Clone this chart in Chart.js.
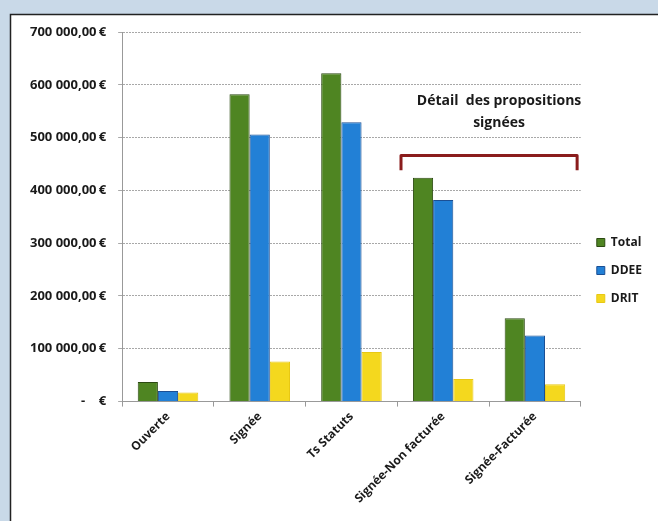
<!DOCTYPE html>
<html>
<head>
<meta charset="utf-8">
<script src="https://cdn.jsdelivr.net/npm/chart.js@4/dist/chart.umd.min.js"></script>
<style>
	html, body { margin: 0; padding: 0; background: #c9d9e8; }
	#wrap { width: 658px; height: 521px; position: relative; }
</style>
</head>
<body>
<div id="wrap"><canvas id="bar-chart" width="658" height="521"></canvas></div>
<script>
; (function() {

	// données
	const categories = ['Ouverte', 'Signée', 'Ts Statuts', 'Signée-Non facturée', 'Signée-Facturée']
	const total = [37000, 582000, 622000, 424000, 158000]
	const ddee = [20000, 506000, 529000, 382000, 125000]
	const drit = [17000, 76000, 94000, 43000, 33000]
	const yTicks = [0, 100000, 200000, 300000, 400000, 500000, 600000, 700000]

	function euro(v) {
		if (v === 0) return '-    €'
		return String(v).replace(/\B(?=(\d{3})+(?!\d))/g, ' ') + ',00\u2009€'
	}

	const framePlugin = {
		id: 'frame',
		beforeDraw(chart) {
			const ctx = chart.ctx
			ctx.save()
			ctx.fillStyle = '#c9d9e8'
			ctx.fillRect(0, 0, chart.width, chart.height)
			ctx.fillStyle = '#ffffff'
			ctx.fillRect(10, 14, chart.width, chart.height)
			ctx.strokeStyle = '#222'
			ctx.lineWidth = 1.5
			ctx.strokeRect(10.5, 14.5, chart.width + 10, chart.height + 10)
			ctx.restore()
		}
	}

	// accolade "Détail des propositions signées"
	const bracketPlugin = {
		id: 'bracket',
		afterDraw(chart) {
			const x = chart.scales.x, y = chart.scales.y
			const w = x.getPixelForValue(1) - x.getPixelForValue(0)
			const left = x.getPixelForValue(3) - w * 0.46
			const right = x.getPixelForValue(4) + w * 0.46
			const top = y.getPixelForValue(466000)
			const bot = y.getPixelForValue(438000)
			const ctx = chart.ctx
			ctx.save()
			ctx.strokeStyle = '#8a1c1c'
			ctx.lineWidth = 3
			ctx.lineJoin = 'round'
			ctx.beginPath()
			ctx.moveTo(left, bot)
			ctx.lineTo(left, top)
			ctx.lineTo(right, top)
			ctx.lineTo(right, bot)
			ctx.stroke()
			ctx.fillStyle = '#1a1a1a'
			ctx.font = 'bold 14px "Open Sans"'
			ctx.textAlign = 'center'
			ctx.textBaseline = 'middle'
			const cx = (left + right) / 2 + 10
			ctx.fillText('Détail  des propositions', cx, y.getPixelForValue(569000))
			ctx.fillText('signées', cx, y.getPixelForValue(527000))
			ctx.restore()
		}
	}

	const barCtx = document.getElementById('bar-chart')
	let chart = new Chart(barCtx, {
		type: 'bar',
		data: {
			labels: categories,
			datasets: [
				{ label: 'Total', data: total, backgroundColor: '#4f8522', borderColor: '#2c4a12', borderWidth: 1 },
				{ label: 'DDEE', data: ddee, backgroundColor: '#2280d6', borderColor: '#1b4f94', borderWidth: 1 },
				{ label: 'DRIT', data: drit, backgroundColor: '#f4d81e', borderColor: '#e8c814', borderWidth: 1 },
			],
		},
		options: {
			responsive: false,
			animation: false,
			layout: { padding: { left: 18, top: 32, right: 6, bottom: 12 } },
			datasets: { bar: { barPercentage: 1, categoryPercentage: 0.66 } },
			plugins: {
				legend: {
					position: 'right',
					labels: {
						boxWidth: 8, boxHeight: 8, padding: 16,
						color: '#1a1a1a',
						font: { family: '"Open Sans"', size: 12, weight: 'bold' },
					},
				},
				tooltip: { enabled: false },
			},
			scales: {
				x: {
					grid: { drawOnChartArea: false, drawTicks: true, tickLength: 5, color: '#999' },
					border: { color: '#999', dash: [2, 1] },
					ticks: {
						maxRotation: 45, minRotation: 45,
						color: '#1a1a1a',
						font: { family: '"Open Sans"', size: 12, weight: 'bold' },
					},
				},
				y: {
					min: 0, max: 700000,
					afterBuildTicks(axis) { axis.ticks = yTicks.map(v => ({ value: v })) },
					grid: { color: '#a8a8a8', tickLength: 4 },
					border: { color: '#999', dash: [2, 1] },
					ticks: {
						callback: v => euro(v),
						padding: 12,
						color: '#1a1a1a',
						font: { family: '"Open Sans"', size: 13, weight: 'bold' },
					},
				},
			},
		},
		plugins: [framePlugin, bracketPlugin],
	})
})()
</script>
</body>
</html>
